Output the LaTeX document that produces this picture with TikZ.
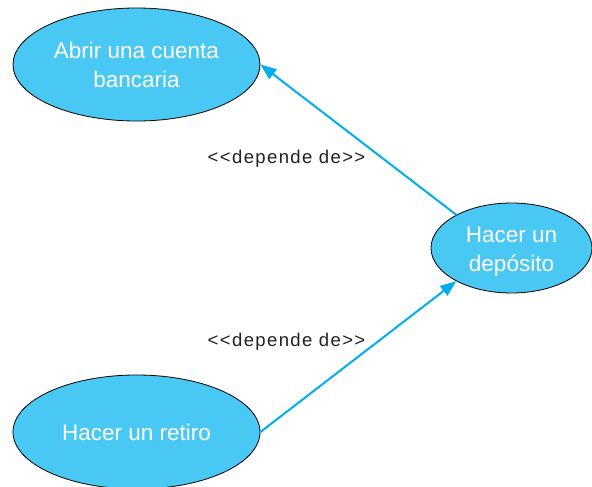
\documentclass[tikz,border=0pt]{standalone}
\usepackage{fontspec}
\setmainfont{Liberation Sans}
\newfontfamily\lblfont[LetterSpace=7.5]{Liberation Sans}
\usetikzlibrary{shapes.geometric,arrows.meta}
\definecolor{ucfill}{HTML}{4AC8F4}
\definecolor{uclink}{HTML}{00AEEF}
\definecolor{lbltext}{HTML}{231F20}
\tikzset{
  usecase/.style={ellipse, draw=black, line width=0.8pt, fill=ucfill, inner sep=0pt,
    text=white, align=center, font=\fontsize{22.5}{29}\selectfont},
  uctext/.style={text=white, align=center, inner sep=0pt, font=\fontsize{22.5}{29}\selectfont},
  dep/.style={draw=uclink, line width=2pt, -{Triangle[length=16pt,width=12pt]}},
  deplabel/.style={anchor=base, text=lbltext, font=\lblfont\fontsize{18.5}{20}\selectfont, inner sep=0pt}
}
\begin{document}
\begin{tikzpicture}[x=1pt,y=-1pt]
\useasboundingbox (0,0) rectangle (592,487);
\node[usecase, minimum width=247pt, minimum height=113pt] (abrir) at (136.5,64.5) {Abrir una cuenta\\bancaria};
\node[usecase, minimum width=161pt, minimum height=90pt] (deposito) at (511.5,248) {};
\node[uctext] (depositotext) at ([yshift=-4pt]deposito.center) {Hacer un\\dep\'osito};
\node[usecase, minimum width=247pt, minimum height=114pt] (retiro) at (136.5,432) {Hacer un retiro};
\draw[dep] (deposito.149) -- (abrir.east);
\draw[dep] (retiro.east) -- (deposito.211);
\node[deplabel] (l1) at (286.5,163) {<{}<depende de>{}>};
\node[deplabel] (l2) at (286.5,346.5) {<{}<depende de>{}>};
\end{tikzpicture}
\end{document}
